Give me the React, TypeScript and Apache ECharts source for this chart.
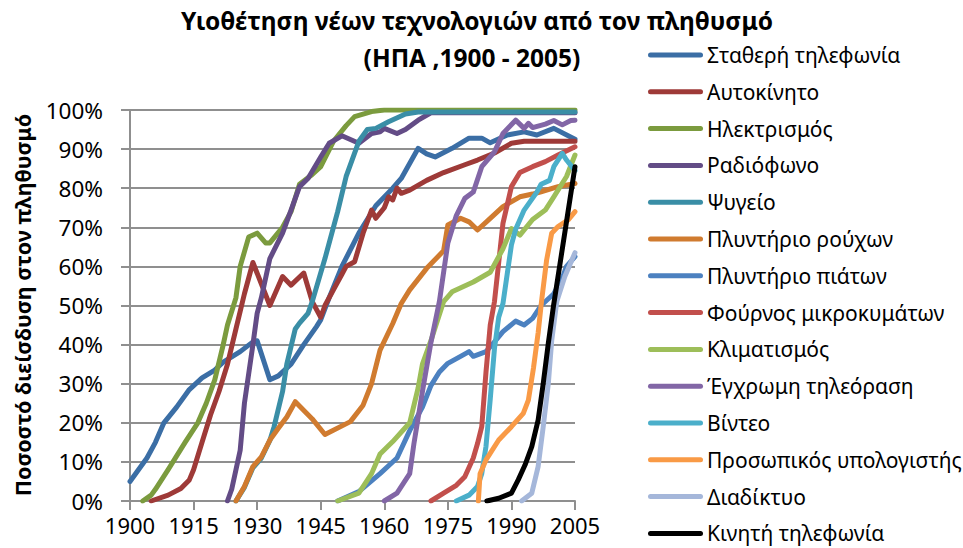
import React, { useEffect, useRef } from "react";
import * as echarts from "echarts";

const TITLE_LINE1 = "Υιοθέτηση νέων τεχνολογιών από τον πληθυσμό";
const TITLE_LINE2 = "(ΗΠΑ ,1900 - 2005)";
const Y_NAME = "Ποσοστό διείσδυση στον πληθυσμό";

const YEAR_MIN = 1900;
const YEAR_MAX = 2005;
const YEAR_STEP = 15;
const PCT_MIN = 0;
const PCT_MAX = 100;
const PCT_STEP = 10;

const seriesNames = [
  "Σταθερή τηλεφωνία",
  "Αυτοκίνητο",
  "Ηλεκτρισμός",
  "Ραδιόφωνο",
  "Ψυγείο",
  "Πλυντήριο ρούχων",
  "Πλυντήριο πιάτων",
  "Φούρνος μικροκυμάτων",
  "Κλιματισμός",
  "Έγχρωμη τηλεόραση",
  "Βίντεο",
  "Προσωπικός υπολογιστής",
  "Διαδίκτυο",
  "Κινητή τηλεφωνία",
];

const seriesColors = [
  "#3B6EA5",
  "#9E3A38",
  "#7B9B3E",
  "#634C86",
  "#3A8EA6",
  "#D07B2F",
  "#4C81C0",
  "#C24F4C",
  "#9DBE59",
  "#8266A6",
  "#4BAFCA",
  "#F99A46",
  "#A5B7DA",
  "#000000",
];

// [year, percent]
const fixedPhone = [
  [1900, 5], [1902, 8], [1904, 11], [1906, 15], [1908, 20], [1911, 24], [1914, 28.5],
  [1917, 31.5], [1920, 33.5], [1922, 35.5], [1926, 38.2], [1929, 40.7], [1930, 41],
  [1933, 31], [1935, 32], [1938, 35], [1941, 40], [1944, 44.6], [1945, 46.3], [1947, 52],
  [1950, 60], [1954, 68.5], [1958, 75.5], [1962, 80], [1964, 82.5], [1968, 90.2],
  [1970, 88.8], [1972, 88], [1976, 90.2], [1980, 92.8], [1983, 92.8], [1985, 91.6],
  [1989, 93.6], [1993, 94.4], [1996, 93.6], [2000, 95.3], [2005, 92.5],
];

const car = [
  [1905, 0], [1909, 1.5], [1912, 3.2], [1914, 5.4], [1915, 8], [1917, 15], [1919, 22],
  [1921, 28], [1923, 35], [1925, 44], [1927, 53], [1929, 61], [1933, 50], [1936, 57.4],
  [1938, 55.2], [1941, 58.3], [1943, 51], [1945, 47], [1946, 50], [1948, 54], [1950, 58],
  [1951, 60], [1953, 61.2], [1955, 68.5], [1957, 74.4], [1958, 72.3], [1960, 75],
  [1961, 77.8], [1962, 77], [1963, 80], [1964, 78.7], [1966, 79.5], [1970, 82],
  [1974, 84], [1979, 86], [1982, 87.2], [1986, 89], [1990, 91.5], [1993, 92], [2005, 92],
];

const electricity = [
  [1903, 0], [1905, 1.5], [1906, 3], [1909, 8], [1913, 15], [1916, 20], [1918, 25],
  [1920, 31], [1922, 40], [1923, 45], [1925, 52], [1926, 60], [1928, 67.5], [1930, 68.5],
  [1932, 66], [1933, 66], [1936, 70], [1938, 74], [1940, 81], [1943, 83.5], [1945, 85.5],
  [1948, 92], [1951, 96], [1953, 98.3], [1957, 99.6], [1960, 100], [2005, 100],
];

const radio = [
  [1923, 0], [1924, 3], [1926, 13], [1927, 25], [1929, 40], [1930, 48], [1931, 52],
  [1933, 62], [1936, 68.5], [1938, 74.4], [1940, 80.4], [1942, 82.5], [1945, 88],
  [1947, 91.5], [1950, 93.4], [1954, 91.5], [1957, 94], [1959, 94.4], [1960, 95.3],
  [1963, 94], [1965, 95], [1968, 97.4], [1971, 99.3], [2005, 99.3],
];

const fridge = [
  [1925, 0], [1927, 3.5], [1929, 8.5], [1931, 11], [1933, 15.5], [1934, 19], [1936, 28],
  [1937, 35], [1939, 44], [1940, 45.5], [1942, 48], [1943, 51], [1946, 62], [1949, 74],
  [1951, 83], [1954, 92], [1956, 95], [1958, 95.3], [1961, 97], [1965, 99], [1968, 99.5],
  [2005, 99.5],
];

const washer = [
  [1925, 0], [1927, 3.7], [1929, 8.8], [1931, 11.3], [1933, 15.6], [1935, 18.6],
  [1937, 21.5], [1939, 25.4], [1943, 21], [1946, 17], [1952, 20.3], [1955, 24.5],
  [1957, 30], [1959, 38.6], [1962, 45.4], [1964, 50.5], [1966, 54], [1970, 59.5],
  [1974, 64], [1975, 70.6], [1978, 72.3], [1980, 71.4], [1982, 69.3], [1985, 72.3],
  [1988, 75.3], [1992, 77.8], [1995, 78.5], [1997, 79.1], [2001, 80.4], [2005, 81.2],
];

const dishwasher = [
  [1949, 0], [1954, 2.4], [1959, 7], [1963, 11], [1966, 18], [1969, 24], [1971, 29.5],
  [1973, 33], [1975, 35.2], [1978, 37], [1980, 38.2], [1981, 37], [1984, 38.2],
  [1986, 40.7], [1988, 43.3], [1991, 46], [1993, 45], [1995, 46.7], [1997, 50],
  [2000, 53], [2002, 57], [2003, 60], [2005, 62.5],
];

const microwave = [
  [1971, 0], [1974, 2], [1977, 4], [1979, 6.2], [1981, 11], [1982, 14.7], [1983, 19],
  [1984, 33], [1985, 45], [1986, 51], [1987, 61], [1988, 71], [1990, 80.4], [1992, 84],
  [1995, 85.5], [1998, 86.8], [2001, 88.5], [2005, 90.6],
];

const airCon = [
  [1949, 0], [1954, 2], [1957, 7], [1959, 12], [1962, 15.2], [1966, 20], [1968, 29],
  [1969, 35], [1971, 41], [1974, 51], [1976, 53.5], [1981, 56], [1985, 58.5],
  [1988, 64.5], [1990, 69.7], [1992, 68], [1995, 72], [1998, 74.4], [2000, 77.8],
  [2003, 83], [2005, 88.5],
];

const colorTv = [
  [1960, 0], [1963, 2], [1966, 7], [1967, 14.7], [1969, 28], [1971, 40.5], [1973, 51],
  [1975, 66], [1977, 73], [1979, 77.4], [1981, 79], [1983, 85.5], [1986, 89.3],
  [1988, 94], [1991, 97.4], [1993, 95.3], [1994, 96.6], [1995, 95.5], [1998, 96.4],
  [2000, 97.3], [2002, 96.2], [2004, 97.3], [2005, 97.4],
];

const video = [
  [1977, 0], [1980, 1.5], [1982, 3.7], [1983, 7], [1984, 14], [1985, 26], [1986, 39],
  [1987, 47], [1988, 50.5], [1989, 58], [1990, 65.5], [1991, 69.5], [1993, 74.4],
  [1996, 79], [1997, 81], [1999, 82], [2000, 85.5], [2002, 88.9], [2003, 87.2],
  [2005, 84.5],
];

const personalComputer = [
  [1982.2, 0], [1982.6, 7], [1984, 10.5], [1987, 15.6], [1990, 19], [1992.8, 22.4],
  [1994, 25.8], [1995.2, 34], [1996.3, 43], [1997.1, 51], [1998.3, 61.6], [1999.5, 68.5],
  [2001, 70.2], [2003.4, 71.9], [2005, 74],
];

const internet = [
  [1992.4, 0], [1994.8, 2], [1996.3, 8.8], [1997.5, 19], [1998.7, 30], [1999.5, 41],
  [2000.7, 51], [2002.6, 57.4], [2005, 63.5],
];

const mobilePhone = [
  [1984.2, 0], [1987, 0.7], [1990, 2], [1991.6, 5.4], [1993.2, 9.2], [1994.8, 13.9],
  [1996.3, 20.7], [1997.5, 30], [1998.7, 40.3], [1999.9, 49.7], [2005, 85.5],
];

const seriesData = [
  fixedPhone, car, electricity, radio, fridge, washer, dishwasher,
  microwave, airCon, colorTv, video, personalComputer, internet, mobilePhone,
];

const FONT = "'Noto Sans', 'DejaVu Sans', sans-serif";
const GRID_COLOR = "#8f8f8f";
const LEGEND_ICON = "path://M2.5,0H52.5A2.5,2.5,0,0,1,52.5,5H2.5A2.5,2.5,0,0,1,2.5,0Z";

export default function App() {
  const ref = useRef<HTMLDivElement>(null);

  useEffect(() => {
    if (!ref.current) return;
    const chart = echarts.init(ref.current, null, { renderer: "svg" });

    const series = seriesNames.map((name, i) => ({
      type: "line",
      name,
      data: seriesData[i].map(([yr, v]) => [yr - YEAR_MIN, v]),
      symbol: "none",
      showSymbol: false,
      smooth: false,
      lineStyle: { width: 5, color: seriesColors[i], cap: "round", join: "round" },
      itemStyle: { color: seriesColors[i] },
      emphasis: { disabled: true },
    }));

    chart.setOption({
      animation: false,
      backgroundColor: "#ffffff",
      textStyle: { fontFamily: FONT },
      grid: { left: 130, right: 388, top: 110, bottom: 47, containLabel: false },
      xAxis: {
        type: "value",
        min: 0,
        max: YEAR_MAX - YEAR_MIN,
        interval: YEAR_STEP,
        axisLine: { show: true, lineStyle: { color: GRID_COLOR, width: 2 } },
        axisTick: { show: true, length: 9, lineStyle: { color: GRID_COLOR, width: 2 } },
        axisLabel: {
          formatter: (v: number) => String(v + YEAR_MIN),
          fontSize: 22,
          color: "#000",
          margin: 13,
          fontFamily: FONT,
        },
        splitLine: { show: false },
      },
      yAxis: {
        type: "value",
        min: PCT_MIN,
        max: PCT_MAX,
        interval: PCT_STEP,
        axisLine: { show: true, lineStyle: { color: GRID_COLOR, width: 2 } },
        axisTick: { show: true, length: 9, lineStyle: { color: GRID_COLOR, width: 2 } },
        axisLabel: {
          formatter: "{value}%",
          fontSize: 22.5,
          color: "#000",
          margin: 27,
          fontFamily: FONT,
        },
        splitLine: { show: true, lineStyle: { color: GRID_COLOR, width: 2 } },
      },
      legend: {
        orient: "vertical",
        left: 648,
        top: 44,
        padding: 0,
        icon: LEGEND_ICON,
        itemWidth: 55,
        itemHeight: 5,
        itemGap: 14.8,
        selectedMode: false,
        textStyle: { fontSize: 21, color: "#000", fontFamily: FONT, lineHeight: 22, padding: [0, 0, 0, -1] },
        data: seriesNames,
      },
      graphic: [
        {
          type: "text",
          x: 477,
          y: 20,
          style: {
            text: TITLE_LINE1,
            font: `bold 24.5px ${FONT}`,
            fill: "#000",
            align: "center",
            verticalAlign: "middle",
          },
        },
        {
          type: "text",
          x: 472,
          y: 57,
          style: {
            text: TITLE_LINE2,
            font: `bold 24.5px ${FONT}`,
            fill: "#000",
            align: "center",
            verticalAlign: "middle",
          },
        },
        {
          type: "text",
          x: 22,
          y: 305,
          rotation: Math.PI / 2,
          style: {
            text: Y_NAME,
            font: `bold 21.5px ${FONT}`,
            fill: "#000",
            align: "center",
            verticalAlign: "middle",
          },
        },
      ],
      series,
    });

    return () => chart.dispose();
  }, []);

  return (
    <div
      ref={ref}
      style={{ position: "fixed", left: 0, top: 0, width: 963, height: 548, background: "#fff" }}
    />
  );
}
